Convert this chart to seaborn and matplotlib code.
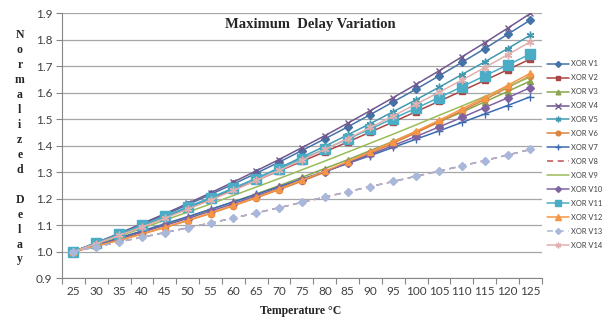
import matplotlib
matplotlib.use("Agg")
import matplotlib.pyplot as plt
import seaborn as sns
import pandas as pd

temps = [25, 30, 35, 40, 45, 50, 55, 60, 65, 70, 75, 80, 85, 90, 95, 100, 105, 110, 115, 120, 125]

v1 = [1.0, 1.033, 1.067, 1.103, 1.139, 1.177, 1.216, 1.255, 1.296, 1.338, 1.382, 1.426, 1.471, 1.518, 1.566, 1.614, 1.664, 1.715, 1.767, 1.821, 1.875]
v2 = [1.0, 1.032, 1.064, 1.097, 1.131, 1.165, 1.199, 1.234, 1.269, 1.305, 1.341, 1.377, 1.414, 1.452, 1.490, 1.529, 1.568, 1.607, 1.647, 1.687, 1.728]
v3 = [1.0, 1.024, 1.050, 1.076, 1.103, 1.130, 1.159, 1.188, 1.218, 1.249, 1.281, 1.314, 1.347, 1.382, 1.417, 1.453, 1.490, 1.527, 1.566, 1.605, 1.645]
v4 = [1.0, 1.034, 1.069, 1.106, 1.143, 1.182, 1.222, 1.263, 1.305, 1.348, 1.393, 1.438, 1.485, 1.533, 1.582, 1.632, 1.683, 1.736, 1.789, 1.844, 1.900]
v5 = [1.0, 1.031, 1.063, 1.096, 1.130, 1.165, 1.202, 1.239, 1.277, 1.316, 1.357, 1.398, 1.441, 1.484, 1.529, 1.574, 1.621, 1.669, 1.717, 1.767, 1.818]
v6 = [1.0, 1.021, 1.043, 1.066, 1.091, 1.117, 1.144, 1.173, 1.203, 1.234, 1.266, 1.300, 1.336, 1.372, 1.410, 1.449, 1.490, 1.532, 1.575, 1.619, 1.665]
v7 = [1.0, 1.026, 1.052, 1.078, 1.105, 1.132, 1.160, 1.188, 1.216, 1.245, 1.274, 1.303, 1.333, 1.363, 1.394, 1.425, 1.456, 1.488, 1.520, 1.552, 1.585]
v8 = [1.0, 1.018, 1.037, 1.054, 1.072, 1.090, 1.108, 1.127, 1.146, 1.166, 1.186, 1.206, 1.226, 1.246, 1.265, 1.285, 1.304, 1.324, 1.344, 1.365, 1.386]
v9 = [1.0, 1.029, 1.058, 1.088, 1.119, 1.149, 1.180, 1.212, 1.244, 1.276, 1.309, 1.342, 1.376, 1.410, 1.444, 1.479, 1.515, 1.550, 1.586, 1.623, 1.660]
v10 = [1.0, 1.023, 1.048, 1.073, 1.099, 1.125, 1.153, 1.181, 1.210, 1.240, 1.270, 1.302, 1.334, 1.367, 1.401, 1.435, 1.471, 1.507, 1.544, 1.581, 1.620]
v11 = [1.0, 1.033, 1.066, 1.100, 1.134, 1.169, 1.204, 1.240, 1.276, 1.313, 1.350, 1.387, 1.425, 1.464, 1.503, 1.542, 1.582, 1.623, 1.664, 1.705, 1.747]
v12 = [1.0, 1.021, 1.043, 1.067, 1.092, 1.118, 1.146, 1.175, 1.205, 1.237, 1.270, 1.304, 1.340, 1.377, 1.416, 1.455, 1.496, 1.539, 1.582, 1.628, 1.674]
v13 = [1.0, 1.018, 1.037, 1.054, 1.072, 1.090, 1.108, 1.127, 1.146, 1.166, 1.186, 1.206, 1.226, 1.246, 1.265, 1.285, 1.304, 1.324, 1.344, 1.365, 1.386]
v14 = [1.0, 1.030, 1.061, 1.093, 1.126, 1.160, 1.195, 1.231, 1.269, 1.307, 1.346, 1.386, 1.427, 1.469, 1.513, 1.557, 1.602, 1.648, 1.695, 1.744, 1.793]

series_names = ["XOR V1", "XOR V2", "XOR V3", "XOR V4", "XOR V5", "XOR V6", "XOR V7",
                "XOR V8", "XOR V9", "XOR V10", "XOR V11", "XOR V12", "XOR V13", "XOR V14"]
series_vals = [v1, v2, v3, v4, v5, v6, v7, v8, v9, v10, v11, v12, v13, v14]

y_ticks = [0.9, 1.0, 1.1, 1.2, 1.3, 1.4, 1.5, 1.6, 1.7, 1.8, 1.9]

colors = ["#4572A7", "#AA4643", "#89A54E", "#71588F", "#4198AF", "#DB843D", "#3C6BB0",
          "#C0504D", "#9BBB59", "#8064A2", "#4BACC6", "#F79646", "#A9B8DA", "#E2AFAF"]
markers = ["D", "s", "^", "x", (6, 2, 0), "o", "+", None, None, "D", "s", "^", "D", (6, 2, 0)]
msizes = [4, 4.5, 4.5, 5, 5.5, 4.5, 6, 0, 0, 4, 6.5, 5, 4, 5.5]
lstyles = ["-", "-", "-", "-", "-", "-", "-", (0, (4, 3)), "-", "-", "-", "-", (0, (4, 3)), "-"]
zorders = [2, 2, 2, 2, 2, 2, 2, 1.5, 2, 2, 2, 2, 2.5, 2]

sns.set_theme(style="white")
plt.rcParams["font.family"] = ["Lato", "DejaVu Sans"]

fig = plt.figure(figsize=(6.02, 3.2), dpi=100)
ax = fig.add_axes([0.103, 0.131, 0.797, 0.827])

ax.yaxis.grid(True, color="#A6A6A6", linewidth=0.9)
ax.set_axisbelow(True)

for n, vals, c, m, ms, ls, z in zip(series_names, series_vals, colors, markers, msizes, lstyles, zorders):
    d = pd.DataFrame({"T": temps, "v": vals})
    kw = dict(color=c, linewidth=1.1, linestyle=ls, label=n, zorder=z)
    if m is not None:
        kw.update(marker=m, markersize=ms, markeredgewidth=1.0, markeredgecolor=c, markerfacecolor=c)
    sns.lineplot(data=d, x="T", y="v", ax=ax, **kw)

ax.set_xlim(22.5, 127.5)
ax.set_ylim(0.9, 1.9)
ax.set_yticks(y_ticks)
ax.set_yticklabels([f"{t:.1f}" for t in y_ticks])
ax.set_xticks(temps)
ax.set_xticklabels([str(t) for t in temps])
ax.set_xticks([t - 2.5 for t in temps] + [127.5], minor=True)
ax.tick_params(axis="x", which="major", length=0, pad=6, labelsize=8.5, labelcolor="#404040")
ax.tick_params(axis="x", which="minor", length=4, width=0.8, color="#868686", direction="out", bottom=True)
ax.tick_params(axis="y", which="major", length=4, width=0.8, color="#868686", direction="out",
               labelsize=8.5, labelcolor="#404040", pad=3, left=True)
ax.set_xlabel("")
ax.set_ylabel("")
for s in ["top", "right"]:
    ax.spines[s].set_visible(False)
for s in ["left", "bottom"]:
    ax.spines[s].set_color("#868686")
    ax.spines[s].set_linewidth(0.8)

handles, labels = ax.get_legend_handles_labels()
leg = ax.legend(handles, labels, loc="center left", bbox_to_anchor=(0.909, 0.517),
                bbox_transform=fig.transFigure, frameon=False, fontsize=5.4,
                handlelength=2.9, labelspacing=0.93, handletextpad=0.3, borderaxespad=0,
                borderpad=0, markerscale=0.75)
for t in leg.get_texts():
    t.set_color("#404040")

fig.text(0.515, 0.922, "Maximum  Delay Variation", ha="center", va="center",
         family="Liberation Serif", fontweight="bold", fontsize=10.5)
fig.text(0.5, 0.028, "Temperature °C", ha="center", va="center",
         family="Liberation Serif", fontweight="bold", fontsize=8.5)
ylab = "\n".join(list("Normalized") + [""] + list("Delay"))
fig.text(0.033, 0.54, ylab, ha="center", va="center", family="Liberation Serif",
         fontweight="bold", fontsize=8.5, linespacing=1.33)

fig.savefig("out.png", dpi=100)
